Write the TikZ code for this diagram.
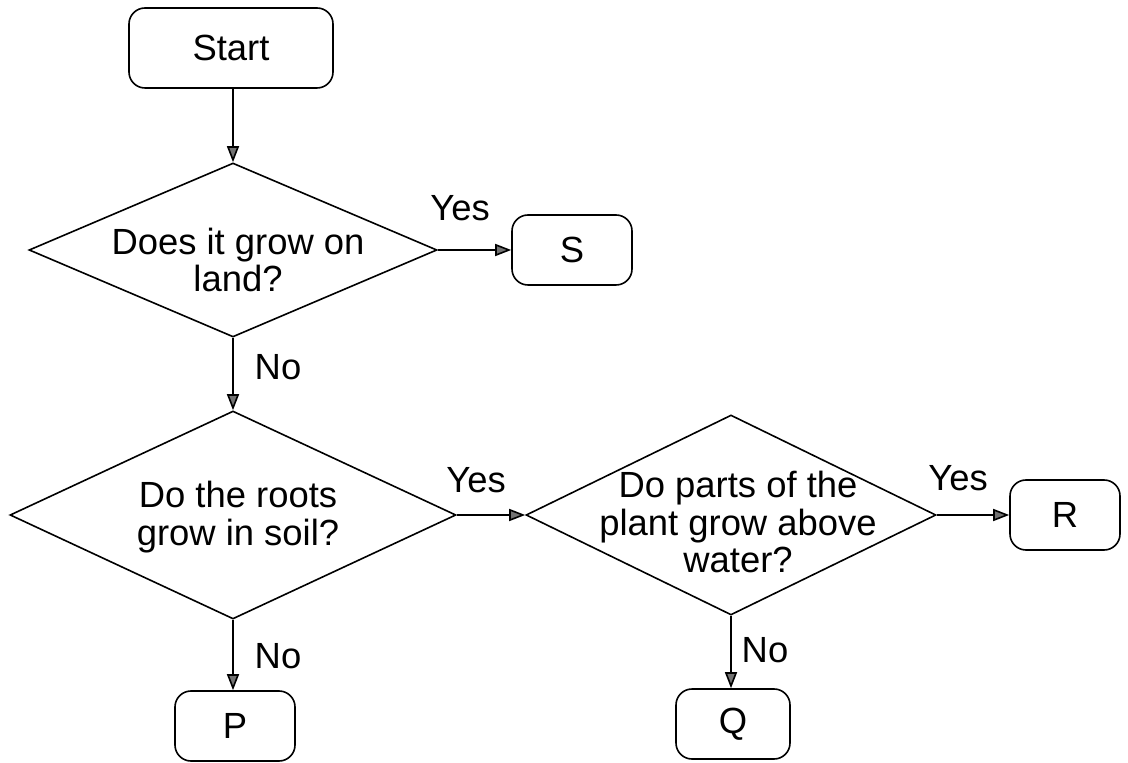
\documentclass[tikz,border=0pt]{standalone}
\usepackage{fontspec}
\setmainfont{Liberation Sans}
\usetikzlibrary{positioning,shapes.geometric,arrows.meta}

\begin{document}
\begin{tikzpicture}[
    x=0.5pt,y=-0.5pt,
    every node/.style={
      font=\fontsize{18.2pt}{18.8pt}\selectfont
    },
    termnode/.style={
      draw,rectangle,rounded corners=8pt,line width=0.8pt,
      minimum width=60pt,minimum height=35pt,inner sep=0pt
    },
    decnode/.style={
      draw,diamond,line width=0.8pt,inner sep=0pt
    },
    dectext/.style={
      align=center,inner sep=0pt
    },
    anslabel/.style={
      inner sep=0pt
    },
    flow/.style={
      line width=0.8pt,
      -{Triangle[length=8pt,width=6pt,fill=black!55]}
    }]

      \useasboundingbox (0,0) rectangle (1128,763);

      \node[termnode,minimum width=102pt,minimum height=40pt] (start) at (231,48) {Start};

      \node[decnode,minimum width=204pt,minimum height=87pt] (land) at (233,250) {};
      \node[dectext] (landtext) at (238,260) {Does it grow on\\land?};
      \node[termnode] (S) at (572,250) {S};

      \node[decnode,minimum width=223pt,minimum height=104pt] (roots) at (233,515) {};
      \node[dectext] (rootstext) at (238,517) {Do the roots\\grow in soil?};
      \node[termnode] (P) at (235,726) {P};

      \node[decnode,minimum width=205pt,minimum height=100pt] (water) at (731,515) {};
      \node[dectext] (watertext) at (738,522) {Do parts of the\\plant grow above\\water?};
      \node[termnode,minimum width=57pt] (Q) at (733,724) {Q};
      \node[termnode,minimum width=55pt] (R) at (1065,515) {R};

      \node[anslabel] (yesS) at (460,208) {Yes};
      \node[anslabel] (noland) at (278,367) {No};
      \node[anslabel] (yesroots) at (476,480) {Yes};
      \node[anslabel] (noroots) at (278,656) {No};
      \node[anslabel] (yeswater) at (958,478) {Yes};
      \node[anslabel] (nowater) at (765,650) {No};

      \draw[flow] (start.south -| land.north) -- (land);
      \draw[flow] (land) -- (S);
      \draw[flow] (land) -- (roots);
      \draw[flow] (roots) -- (water);
      \draw[flow] (roots) -- (roots.south |- P.north);
      \draw[flow] (water) -- (R);
      \draw[flow] (water) -- (water.south |- Q.north);
\end{tikzpicture}
\end{document}
